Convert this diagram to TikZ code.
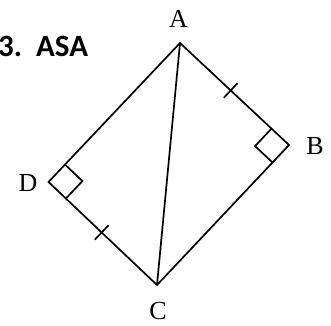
\documentclass[tikz,border=0pt]{standalone}
\usepackage{fontspec}
\setmainfont{Liberation Serif}
\newfontfamily\titlefont{Carlito}
\usetikzlibrary{calc}

\begin{document}
\begin{tikzpicture}[
    x=1pt, y=-1pt,
    side/.style={draw=black, line width=1.7pt, line join=miter},
    angmark/.style={draw=black, line width=1.7pt},
    lbl/.style={inner sep=0pt, font=\fontsize{26}{26}\selectfont} ]

    \useasboundingbox (0,0) rectangle (331,325);

    % Vertices of the quadrilateral
    \coordinate (A) at (180,43);
    \coordinate (B) at (289,145);
    \coordinate (C) at (157,285);
    \coordinate (D) at (48.5,182);

    % Title
    \node[inner sep=0pt, anchor=base west] (title) at (-2,56.5)
	    {\titlefont\bfseries\fontsize{31}{31}\selectfont 3.\hspace{14pt}ASA};

    % Vertex labels
    \node[lbl] (lblA) at (178.5,19) {A};
    \node[lbl] (lblB) at (315,146) {B};
    \node[lbl] (lblC) at (158,311) {C};
    \node[lbl] (lblD) at (28,183) {D};

    % Sides and diagonal
    \draw[side] (A) -- (B) -- (C) -- (D) -- cycle;
    \draw[side] (A) -- (C);

    % Right angles at B and D
    \draw[angmark] ($(B)!24pt!(A)$) -- ($(B)!24pt!(A)!24pt!90:(A)$)
	    -- ($(B)!24pt!(C)$);
    \draw[angmark] ($(D)!24pt!(A)$) -- ($(D)!24pt!(A)!24pt!-90:(A)$)
	    -- ($(D)!24pt!(C)$);

    % Equal side ticks on AB and DC
    \coordinate (tAB) at ($(A)!0.465!(B)$);
    \coordinate (tDC) at ($(D)!0.49!(C)$);
    \draw[angmark] ($(tAB)!10pt!90:(B)$) -- ($(tAB)!10pt!-90:(B)$);
    \draw[angmark] ($(tDC)!10pt!90:(C)$) -- ($(tDC)!10pt!-90:(C)$);

\end{tikzpicture}
\end{document}
